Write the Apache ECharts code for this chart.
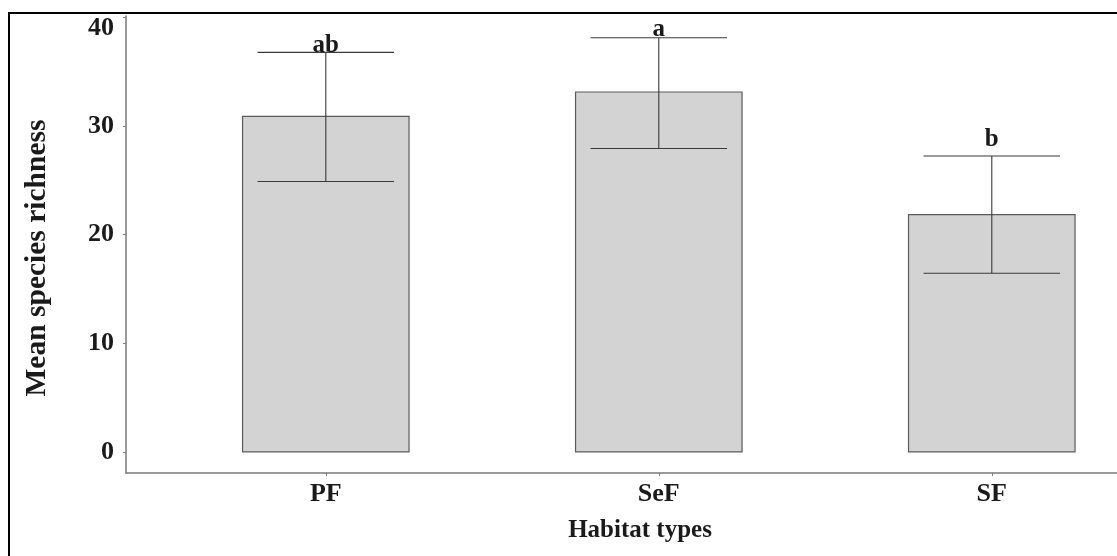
<!DOCTYPE html>
<html>
<head>
<meta charset="utf-8">
<script src="https://cdn.jsdelivr.net/npm/echarts@6/dist/echarts.min.js"></script>
<style>
html,body{margin:0;padding:0;background:#fff;}
#chart{width:1117px;height:556px;}
</style>
</head>
<body>
<div id="chart"></div>
<script>
const categories = ['PF', 'SeF', 'SF'];
const means = [30.9, 33.15, 21.85];
const errLow = [24.9, 27.95, 16.45];
const errHigh = [36.8, 38.15, 27.25];
const letters = ['ab', 'a', 'b'];
const letterY = [36.25, 37.75, 27.6];
const yTicks = [0, 10, 20, 30, 40];
const xTicks = [1, 2, 3];

const FONT = '"Liberation Serif", "Times New Roman", serif';
const BAR_HALF = 0.25;
const WHISKER_HALF = 0.205;

const chart = echarts.init(document.getElementById('chart'), null, {renderer: 'canvas'});

const barData = categories.map((c, i) => [i + 1, means[i]]);
const errData = categories.map((c, i) => [i + 1, errLow[i], errHigh[i], letterY[i]]);

const option = {
  backgroundColor: '#ffffff',
  animation: false,
  grid: {left: 126, top: 16, bottom: 83, right: 0, containLabel: false},
  xAxis: {
    type: 'value',
    min: 0.4,
    max: 3.376,
    splitLine: {show: false},
    axisLine: {show: true, onZero: false, lineStyle: {color: '#7a7a7a', width: 1.5}},
    axisTick: {show: true, customValues: xTicks, length: 3, lineStyle: {color: '#7a7a7a'}},
    axisLabel: {
      customValues: xTicks,
      formatter: v => categories[Math.round(v) - 1] || '',
      margin: 8,
      fontFamily: FONT, fontWeight: 'bold', fontSize: 26, color: '#1a1a1a'
    }
  },
  yAxis: {
    type: 'value',
    min: -1.95,
    max: 40.15,
    splitLine: {show: false},
    axisLine: {show: true, onZero: false, lineStyle: {color: '#7a7a7a', width: 1.5}},
    axisTick: {show: true, customValues: yTicks, length: 3, lineStyle: {color: '#7a7a7a'}},
    axisLabel: {
      customValues: yTicks,
      margin: 12,
      formatter: v => v === 40 ? '{d|40}' : String(v),
      fontFamily: FONT, fontWeight: 'bold', fontSize: 26, color: '#1a1a1a',
      rich: {d: {fontFamily: FONT, fontWeight: 'bold', fontSize: 26, color: '#1a1a1a', padding: [22, 0, 0, 0]}}
    }
  },
  graphic: [
    {type: 'polyline', silent: true, shape: {points: [[9, 600], [9, 13], [1200, 13]]},
     style: {stroke: '#000', lineWidth: 2, fill: null}},
    {type: 'text', x: 37, y: 258, rotation: Math.PI / 2,
     style: {text: 'Mean species richness', font: 'bold 29.5px ' + FONT, fill: '#1a1a1a', textAlign: 'center', textVerticalAlign: 'middle'}},
    {type: 'text', x: 640, y: 531,
     style: {text: 'Habitat types', font: 'bold 25px ' + FONT, fill: '#1a1a1a', textAlign: 'center', textVerticalAlign: 'middle'}}
  ],
  series: [
    {
      type: 'custom',
      name: 'bars',
      data: barData,
      renderItem: (params, api) => {
        const x = api.value(0), v = api.value(1);
        const p1 = api.coord([x - BAR_HALF, v]);
        const p2 = api.coord([x + BAR_HALF, 0]);
        return {
          type: 'rect',
          shape: {x: p1[0], y: p1[1], width: p2[0] - p1[0], height: p2[1] - p1[1]},
          style: {fill: '#d3d3d3', stroke: '#5a5a5a', lineWidth: 1.2}
        };
      }
    },
    {
      type: 'custom',
      name: 'errors',
      data: errData,
      z: 3,
      renderItem: (params, api) => {
        const x = api.value(0), lo = api.value(1), hi = api.value(2), ly = api.value(3);
        const top = api.coord([x, hi]);
        const bot = api.coord([x, lo]);
        const tl = api.coord([x - WHISKER_HALF, hi]);
        const tr = api.coord([x + WHISKER_HALF, hi]);
        const bl = api.coord([x - WHISKER_HALF, lo]);
        const br = api.coord([x + WHISKER_HALF, lo]);
        const lp = api.coord([x, ly]);
        const st = {stroke: '#3a3a3a', lineWidth: 1.1};
        return {
          type: 'group',
          children: [
            {type: 'line', shape: {x1: top[0], y1: top[1], x2: bot[0], y2: bot[1]}, style: st},
            {type: 'line', shape: {x1: tl[0], y1: tl[1], x2: tr[0], y2: tr[1]}, style: st},
            {type: 'line', shape: {x1: bl[0], y1: bl[1], x2: br[0], y2: br[1]}, style: st},
            {type: 'text', x: lp[0], y: lp[1], z2: 10,
             style: {text: letters[params.dataIndex], font: 'bold 25px ' + FONT, fill: '#1a1a1a',
                     align: 'center', verticalAlign: 'bottom'}}
          ]
        };
      }
    }
  ]
};
chart.setOption(option);
</script>
</body>
</html>
